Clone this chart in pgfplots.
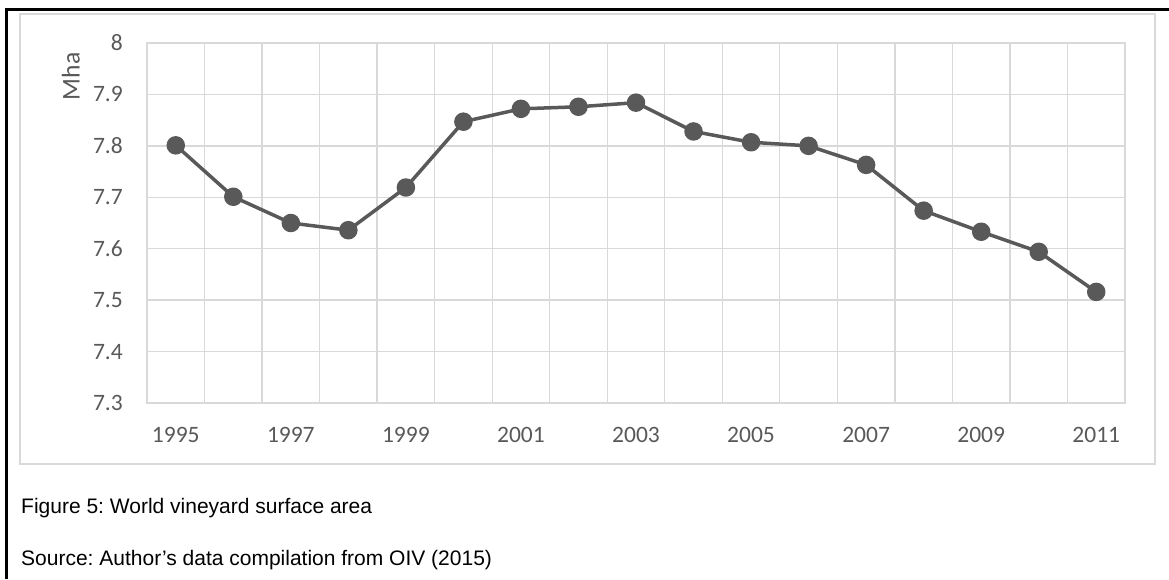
\documentclass[border=0pt]{standalone}
\usepackage{pgfplots}
\pgfplotsset{compat=1.18}
\usepackage{fontspec}
\setmainfont{Carlito}
\newfontfamily\arialfont{Liberation Sans}
\definecolor{linegray}{HTML}{595959}
\definecolor{gridgray}{HTML}{D9D9D9}
\definecolor{textgray}{HTML}{595959}
\frenchspacing
\begin{document}
\begin{tikzpicture}[x=1pt,y=1pt]
\useasboundingbox (0,0) rectangle (1169,579);
% outer frame (top and left only)
\draw[black, line width=3pt] (6,0) -- (6,569) -- (1169,569);
% chart area border
\draw[gridgray, line width=1.5pt] (20,115) rectangle (1155,565);
\begin{axis}[
    at={(147pt,176pt)}, anchor=south west,
    width=978pt, height=360pt, scale only axis,
    xmin=1994.5, xmax=2011.5,
    ymin=7.3, ymax=8,
    xtick={1995,1997,1999,2001,2003,2005,2007,2009,2011},
    xticklabels={1995,1997,1999,2001,2003,2005,2007,2009,2011},
    minor xtick={1994.5,1995.5,...,2011.5},
    ytick={7.3,7.4,7.5,7.6,7.7,7.8,7.9,8},
    yticklabels={7.3,7.4,7.5,7.6,7.7,7.8,7.9,8},
    major tick length=0pt, minor tick length=0pt,
    xmajorgrids=false, xminorgrids=true, ymajorgrids=true,
    grid style={gridgray, line width=1.3pt},
    minor grid style={gridgray, line width=1.3pt},
    axis line style={gridgray, line width=1.3pt},
    tick label style={font=\fontsize{23.5}{28}\selectfont, text=textgray},
    /pgf/number format/assume math mode=true,
    xticklabel style={anchor=base, inner sep=0pt, yshift=-39pt},
    yticklabel style={anchor=east, inner sep=0pt, xshift=-24pt},
    ylabel={\fontsize{25.6}{30}\selectfont Mha},
    every axis y label/.style={at={(axis description cs:-0.078,0.907)}, rotate=90, anchor=center, inner sep=0pt, text=textgray},
    clip=false,
]
\addplot[color=linegray, line width=3.5pt, line join=round, mark=*, mark size=7.5pt, mark options={fill=linegray, draw=none}]
coordinates {
    (1995,7.801) (1996,7.701) (1997,7.650) (1998,7.636) (1999,7.719)
    (2000,7.847) (2001,7.872) (2002,7.876) (2003,7.884) (2004,7.828)
    (2005,7.807) (2006,7.800) (2007,7.763) (2008,7.674) (2009,7.633)
    (2010,7.594) (2011,7.516)
};
\end{axis}
% caption lines
\node[anchor=base west, inner sep=0pt, font=\arialfont\fontsize{21}{25}\selectfont] at (21,66) {Figure 5: World vineyard surface area};
\node[anchor=base west, inner sep=0pt, font=\arialfont\fontsize{21}{25}\selectfont] at (21,14) {Source: Author’s data compilation from OIV (2015)};
\end{tikzpicture}
\end{document}
